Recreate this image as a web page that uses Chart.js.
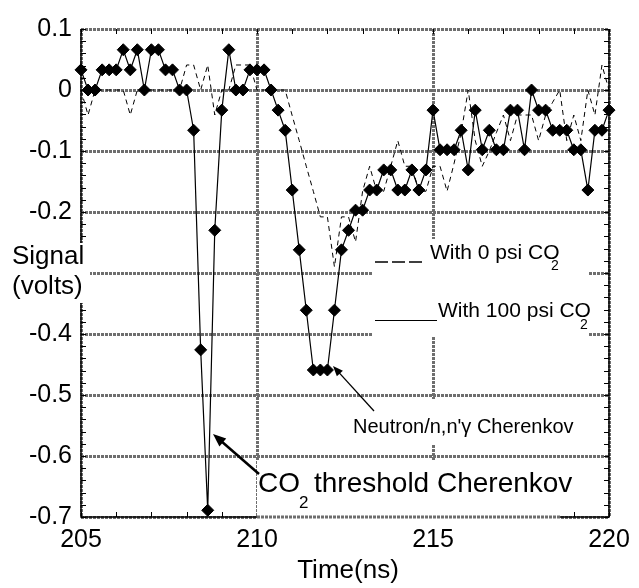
<!DOCTYPE html>
<html>
<head>
<meta charset="utf-8">
<script src="https://cdn.jsdelivr.net/npm/chart.js@4.4.0/dist/chart.umd.min.js"></script>
<style>
  html, body { margin: 0; padding: 0; background: #fff; }
</style>
</head>
<body>
<canvas id="cherenkov_chart" width="639" height="588"></canvas>
<script>
// time axis (ns), sampled every 0.2 ns
var times = [
  205.0, 205.2, 205.4, 205.6, 205.8,
  206.0, 206.2, 206.4, 206.6, 206.8,
  207.0, 207.2, 207.4, 207.6, 207.8,
  208.0, 208.2, 208.4, 208.6, 208.8,
  209.0, 209.2, 209.4, 209.6, 209.8,
  210.0, 210.2, 210.4, 210.6, 210.8,
  211.0, 211.2, 211.4, 211.6, 211.8,
  212.0, 212.2, 212.4, 212.6, 212.8,
  213.0, 213.2, 213.4, 213.6, 213.8,
  214.0, 214.2, 214.4, 214.6, 214.8,
  215.0, 215.2, 215.4, 215.6, 215.8,
  216.0, 216.2, 216.4, 216.6, 216.8,
  217.0, 217.2, 217.4, 217.6, 217.8,
  218.0, 218.2, 218.4, 218.6, 218.8,
  219.0, 219.2, 219.4, 219.6, 219.8,
  220.0
];

// signal (volts) with 0 psi CO2 (dashed)
var signal_0psi = [
  0, -0.041, 0, 0, 0,
  0, 0, -0.041, 0, 0,
  0, 0, 0, 0, 0,
  0.041, 0.041, 0, 0.041, -0.041,
  0, 0, 0.041, 0.041, 0.041,
  0, 0, 0, 0, 0,
  -0.042, -0.083, -0.125, -0.166, -0.208,
  -0.208, -0.29, -0.208, -0.208, -0.249,
  -0.166, -0.125, -0.166, -0.166, -0.125,
  -0.083, -0.125, -0.125, -0.166, -0.166,
  -0.125, -0.125, -0.166, -0.12, -0.07,
  0, -0.083, -0.125, -0.1, -0.07,
  -0.041, -0.083, -0.041, -0.041, -0.041,
  -0.083, -0.041, -0.02, 0, -0.083,
  -0.041, -0.083, 0, -0.041, 0.041,
  0
];

// signal (volts) with 100 psi CO2 (solid, diamonds)
var signal_100psi = [
  0.033, 0, 0, 0.033, 0.033,
  0.033, 0.066, 0.033, 0.066, 0,
  0.066, 0.066, 0.033, 0.033, 0,
  0, -0.066, -0.426, -0.689, -0.230,
  -0.033, 0.066, 0, 0, 0.033,
  0.033, 0.033, 0, -0.033, -0.066,
  -0.164, -0.262, -0.361, -0.459, -0.459,
  -0.459, -0.361, -0.262, -0.230, -0.197,
  -0.197, -0.164, -0.164, -0.131, -0.131,
  -0.164, -0.164, -0.131, -0.164, -0.131,
  -0.033, -0.098, -0.098, -0.098, -0.066,
  -0.131, -0.033, -0.098, -0.066, -0.098,
  -0.098, -0.033, -0.033, -0.098, 0,
  -0.033, -0.033, -0.066, -0.066, -0.066,
  -0.098, -0.098, -0.164, -0.066, -0.066,
  -0.033
];

var x_range = [205, 220];
var y_range = [-0.7, 0.1];
var hidden_y_label = -0.3;   // replaced by "Signal (volts)"

var FONT = '"Liberation Sans", Arial, Helvetica, sans-serif';
var GRID_COLOR = '#6e6e6e';

var toPoints = function(xs, ys) {
  return xs.map(function(x, i) { return { x: x, y: ys[i] }; });
};

var arrow = function(ctx, x1, y1, x2, y2, width, head) {
  var ang = Math.atan2(y2 - y1, x2 - x1);
  ctx.lineWidth = width;
  ctx.beginPath();
  ctx.moveTo(x1, y1);
  ctx.lineTo(x2 - Math.cos(ang) * head * 0.6, y2 - Math.sin(ang) * head * 0.6);
  ctx.stroke();
  ctx.beginPath();
  ctx.moveTo(x2, y2);
  ctx.lineTo(x2 - head * Math.cos(ang - 0.38), y2 - head * Math.sin(ang - 0.38));
  ctx.lineTo(x2 - head * Math.cos(ang + 0.38), y2 - head * Math.sin(ang + 0.38));
  ctx.closePath();
  ctx.fill();
};

var decor = {
  id: 'decor',
  beforeDatasetsDraw: function(chart) {
    var ctx = chart.ctx;
    var a = chart.chartArea;
    var xs = chart.scales.x, ys = chart.scales.y;
    ctx.save();

    // minor ticks, inward on all four sides
    ctx.strokeStyle = '#000';
    ctx.lineWidth = 1;
    ctx.beginPath();
    for (var t = x_range[0]; t <= x_range[1]; t++) {
      var px = Math.round(xs.getPixelForValue(t)) + 0.5;
      ctx.moveTo(px, a.top); ctx.lineTo(px, a.top + 5);
      ctx.moveTo(px, a.bottom); ctx.lineTo(px, a.bottom - 5);
    }
    for (var k = -35; k <= 5; k++) {
      var py = Math.round(ys.getPixelForValue(k * 0.02)) + 0.5;
      ctx.moveTo(a.left, py); ctx.lineTo(a.left + 5, py);
      ctx.moveTo(a.right, py); ctx.lineTo(a.right - 5, py);
    }
    ctx.stroke();

    // frame (left, bottom, right solid)
    ctx.lineWidth = 1.5;
    ctx.beginPath();
    ctx.moveTo(a.left, a.top);
    ctx.lineTo(a.left, a.bottom);
    ctx.lineTo(a.right, a.bottom);
    ctx.lineTo(a.right, a.top);
    ctx.stroke();

    // white boxes behind the labels
    ctx.fillStyle = '#fff';
    ctx.fillRect(8, 243, 82, 60);        // Signal (volts)
    ctx.fillRect(373, 239, 216, 98);     // legend
    ctx.fillRect(350, 399, 232, 45);     // Neutron label
    ctx.fillRect(257, 461, 303, 59);     // CO2 label

    // dotted bottom line through the CO2 label box
    ctx.strokeStyle = GRID_COLOR;
    ctx.lineWidth = 3;
    ctx.setLineDash([3, 1]);
    ctx.beginPath();
    ctx.moveTo(257, a.bottom);
    ctx.lineTo(560, a.bottom);
    ctx.stroke();
    ctx.restore();
  },
  afterDatasetsDraw: function(chart) {
    var ctx = chart.ctx;
    ctx.save();
    ctx.fillStyle = '#000';
    ctx.strokeStyle = '#000';
    ctx.textBaseline = 'alphabetic';
    ctx.textAlign = 'left';

    // y axis title
    ctx.font = '26px ' + FONT;
    ctx.fillText('Signal', 12, 264);
    ctx.fillText('(volts)', 12, 294);

    // legend
    ctx.lineWidth = 1.5;
    ctx.setLineDash([13, 4]);
    ctx.beginPath(); ctx.moveTo(375, 262); ctx.lineTo(425, 262); ctx.stroke();
    ctx.setLineDash([]);
    ctx.lineWidth = 1.2;
    ctx.beginPath(); ctx.moveTo(375, 320.5); ctx.lineTo(437, 320.5); ctx.stroke();

    ctx.font = '21px ' + FONT;
    ctx.fillText('With 0 psi CO', 430, 259);
    ctx.fillText('With 100 psi CO', 438, 317);
    ctx.font = '14px ' + FONT;
    ctx.fillText('2', 551, 270);
    ctx.fillText('2', 580, 329);

    // Neutron annotation
    ctx.font = '20px ' + FONT;
    ctx.fillText("Neutron/n,n'\u03b3 Cherenkov", 353, 433);
    arrow(ctx, 374, 411, 333, 366, 1.3, 11);

    // CO2 threshold annotation
    ctx.font = '28px ' + FONT;
    ctx.fillText('CO', 258, 492);
    ctx.fillText('threshold Cherenkov', 314, 492);
    ctx.font = '17px ' + FONT;
    ctx.fillText('2', 299, 508);
    arrow(ctx, 259, 474, 213, 434, 2.5, 14);

    // x axis title
    ctx.font = '26px ' + FONT;
    ctx.textAlign = 'center';
    ctx.fillText('Time(ns)', 348, 578);
    ctx.restore();
  }
};

var chart_signal = new Chart(document.getElementById('cherenkov_chart').getContext('2d'), {
  type: 'line',
  data: {
    datasets: [
      {
        label: 'With 0 psi CO2',
        data: toPoints(times, signal_0psi),
        borderColor: '#000',
        borderWidth: 1,
        borderDash: [5, 4],
        pointRadius: 0,
        fill: false,
        tension: 0,
        clip: false
      },
      {
        label: 'With 100 psi CO2',
        data: toPoints(times, signal_100psi),
        borderColor: '#000',
        backgroundColor: '#000',
        borderWidth: 1.2,
        pointStyle: 'rectRot',
        pointRadius: 6,
        pointBorderWidth: 1,
        fill: false,
        tension: 0,
        clip: false
      }
    ]
  },
  options: {
    responsive: false,
    animation: false,
    devicePixelRatio: 1,
    layout: { padding: { top: 29, right: 30, left: 0, bottom: 0 } },
    plugins: {
      legend: { display: false },
      tooltip: { enabled: false },
      title: { display: false }
    },
    scales: {
      x: {
        type: 'linear',
        min: x_range[0],
        max: x_range[1],
        afterFit: function(scale) { scale.height = 71; },
        ticks: {
          stepSize: 5,
          autoSkip: false,
          maxRotation: 0,
          padding: 8,
          color: '#000',
          font: { family: FONT, size: 25 },
          callback: function(v) { return String(v); }
        },
        grid: { color: GRID_COLOR, lineWidth: 3, drawTicks: false },
        border: { display: false, dash: [3, 1] }
      },
      y: {
        type: 'linear',
        min: y_range[0],
        max: y_range[1],
        afterFit: function(scale) { scale.width = 81; },
        ticks: {
          stepSize: 0.1,
          padding: 9,
          color: '#000',
          font: { family: FONT, size: 25 },
          callback: function(v) {
            var r = Math.round(v * 10) / 10;
            if (r === hidden_y_label) return '';
            return String(r);
          }
        },
        grid: { color: GRID_COLOR, lineWidth: 3, drawTicks: false },
        border: { display: false, dash: [3, 1] }
      }
    }
  },
  plugins: [decor]
});
</script>
</body>
</html>
